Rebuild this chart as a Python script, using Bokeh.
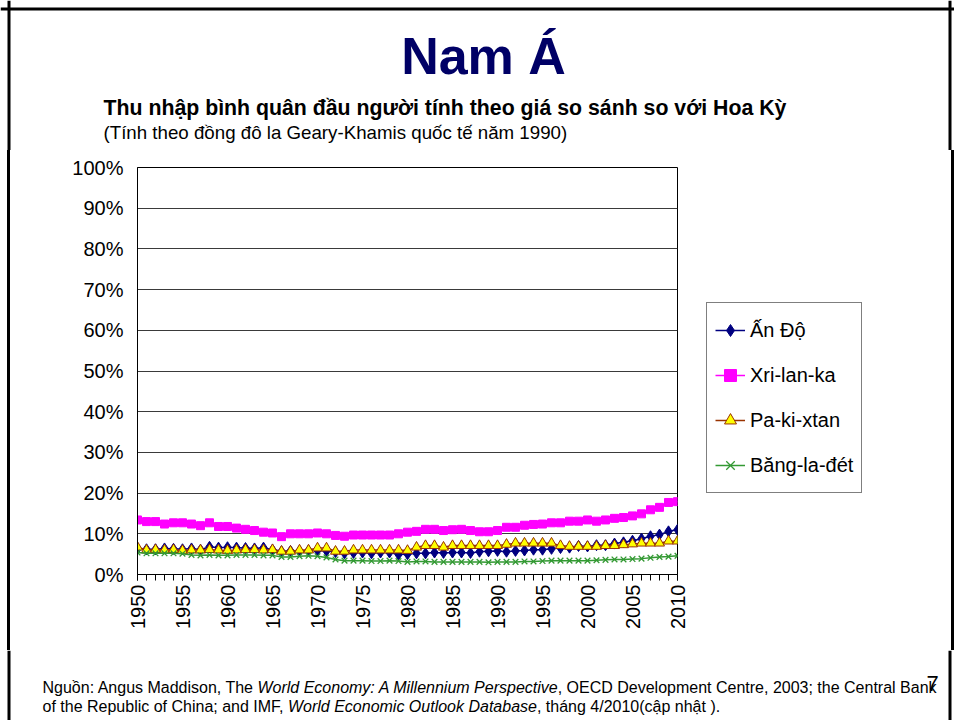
import math
import subprocess
from bokeh.plotting import figure
from bokeh.layouts import column, row
from bokeh.models import (Range1d, FixedTicker, PrintfTickFormatter, Legend, LegendItem,
                          Label, Span, Div)
from bokeh.embed import file_html
from bokeh.resources import INLINE

# ---------------- data ----------------
years = list(range(1950, 2011))
india = [6.3, 6.2, 6.2, 6.4, 6.3, 6.2, 6.4, 6.1, 6.8, 6.6, 6.7, 6.6, 6.5, 6.4, 6.6,
         6.1, 5.7, 5.8, 5.8, 5.9, 5.9, 5.8, 5.5, 5.2, 5.3, 5.4, 5.2, 5.4, 5.4, 4.9,
         5.0, 5.2, 5.2, 5.4, 5.3, 5.4, 5.4, 5.3, 5.6, 5.7, 5.8, 5.6, 5.8, 5.9, 6.1,
         6.1, 6.3, 6.5, 6.6, 7.0, 6.9, 7.2, 7.2, 7.6, 7.9, 8.3, 8.8, 9.4, 9.8, 10.6, 11.0]
sri_lanka = [13.4, 13.0, 13.0, 12.4, 12.7, 12.7, 12.4, 12.0, 12.7, 11.8, 11.8, 11.4, 11.1, 10.8, 10.4,
             10.2, 9.3, 10.0, 10.0, 10.0, 10.2, 10.0, 9.6, 9.4, 9.7, 9.7, 9.7, 9.7, 9.7, 10.0,
             10.4, 10.6, 11.1, 11.1, 10.8, 11.0, 11.1, 10.8, 10.5, 10.5, 10.8, 11.6, 11.6, 12.1, 12.3,
             12.4, 12.7, 12.7, 13.1, 13.1, 13.4, 13.1, 13.4, 13.8, 14.0, 14.4, 14.9, 15.9, 16.5, 17.7, 17.9]
pakistan = [6.7, 6.0, 6.1, 6.0, 6.1, 5.9, 6.0, 6.0, 6.1, 6.0, 5.9, 6.0, 6.1, 6.1, 6.0,
            6.1, 5.7, 5.7, 6.0, 6.0, 6.5, 6.5, 5.7, 5.7, 6.0, 6.0, 6.0, 6.0, 6.0, 6.0,
            5.9, 6.7, 7.1, 7.1, 6.7, 7.1, 7.1, 7.1, 7.1, 7.1, 7.1, 7.4, 7.7, 7.7, 7.7,
            7.7, 7.7, 7.1, 6.9, 6.9, 6.9, 6.9, 7.1, 7.1, 7.3, 7.5, 7.7, 7.7, 7.7, 8.2, 8.2]
bangladesh = [5.4, 5.2, 5.2, 5.2, 5.2, 5.1, 4.8, 4.7, 4.8, 4.7, 4.7, 4.8, 4.8, 4.8, 4.7,
              4.7, 4.3, 4.3, 4.5, 4.6, 4.5, 4.2, 3.7, 3.4, 3.4, 3.4, 3.3, 3.3, 3.4, 3.3,
              3.1, 3.2, 3.2, 3.1, 3.1, 3.1, 3.1, 3.1, 3.1, 3.0, 3.1, 3.1, 3.1, 3.2, 3.2,
              3.3, 3.4, 3.4, 3.4, 3.4, 3.4, 3.5, 3.6, 3.7, 3.7, 3.8, 3.9, 4.1, 4.3, 4.4, 4.6]
series_names = ["Ấn Độ", "Xri-lan-ka", "Pa-ki-xtan", "Băng-la-đét"]
y_ticks = list(range(0, 101, 10))
x_label_years = list(range(1950, 2011, 5))

title_text = "Nam Á"
subtitle1 = "Thu nhập bình quân đầu người tính theo giá so sánh so với Hoa Kỳ"
subtitle2 = "(Tính theo đồng đô la Geary-Khamis quốc tế năm 1990)"
foot1 = [("Nguồn: Angus Maddison, The ", "normal"),
         ("World Economy: A Millennium Perspective", "italic"),
         (", OECD Development Centre, 2003; the Central Bank", "normal")]
foot2 = [("of the Republic of China; and IMF, ", "normal"),
         ("World Economic Outlook Database", "italic"),
         (", tháng 4/2010(cập nhật ).", "normal")]
page_number = "7"

# ---------------- text measuring ----------------
_files = {}
def _font_file(pattern):
    if pattern not in _files:
        try:
            out = subprocess.run(["fc-match", "-f", "%{file}", pattern],
                                 capture_output=True, text=True, timeout=10).stdout.strip()
        except Exception:
            out = ""
        _files[pattern] = out or None
    return _files[pattern]

def text_width(text, size, style="normal"):
    pat = {"normal": "Liberation Sans", "bold": "Liberation Sans:bold",
           "italic": "Liberation Sans:italic"}[style]
    try:
        from PIL import ImageFont
        f = ImageFont.truetype(_font_file(pat), 100)
        return f.getlength(text) * size / 100.0
    except Exception:
        return len(text) * size * 0.52

def fit_size(text, target, style, lo, hi):
    w1 = text_width(text, 1.0, style)
    s = target / w1 if w1 > 0 else hi
    return max(lo, min(hi, s))

# ---------------- page geometry (px from top-left) ----------------
PW = 954
HEAD_H = 150          # header rows 0..150
CHART_B = 650         # chart row 150..650
FOOT_B = 720          # footer rows 650..720
FL, FT, FR, FB = 137, 167, 677, 574   # plot frame
LSTRIP = 10           # left strip (border line at 7..10)
CHART_R = 700         # chart figure right edge; legend figure after it
RSTRIP = 7            # right strip (border line at 948..951)
BX0, BX1, BY0 = 8.5, 949.5, 8.5
FONT = "Liberation Sans"
TXT_SHIFT = 0.25      # compensation of text baseline placement


def blank(w, h, x0, x1, y_top, y_bot):
    f = figure(width=w, height=h, output_backend="svg", toolbar_location=None,
               x_range=Range1d(x0, x1), y_range=Range1d(y_bot, y_top),
               x_axis_location=None, y_axis_location=None, min_border=0)
    f.grid.visible = False
    f.outline_line_color = None
    f.background_fill_color = "white"
    f.border_fill_color = "white"
    return f


def border_v(f, x):
    f.add_layout(Span(location=x, dimension="height", line_color="black", line_width=3))


def add_label(f, text, px, py, size, style="normal", color="black", align="left", shift=None):
    dy = TXT_SHIFT * size if shift is None else shift
    f.add_layout(Label(x=px, y=py - dy, text=text, text_font=FONT, text_font_size=f"{size:.2f}px",
                       text_font_style=style, text_color=color, text_align=align,
                       text_baseline="alphabetic"))


# ---------------- header ----------------
head = blank(PW, HEAD_H, 0, PW, 0, HEAD_H)
head.add_layout(Span(location=BY0, dimension="width", line_color="black", line_width=3))
border_v(head, BX0)
border_v(head, BX1)
add_label(head, title_text, 483, 76, 52, "bold", "#000066", "center", shift=21)
s1 = fit_size(subtitle1, 683, "bold", 15, 22)
add_label(head, subtitle1, 103, 113, s1, "bold")
s2 = fit_size(subtitle2, 464, "normal", 14, 19)
add_label(head, subtitle2, 103, 137, s2, "normal")

# ---------------- chart ----------------
CH = CHART_B - HEAD_H
p = figure(width=CHART_R - LSTRIP, height=CH, output_backend="svg", toolbar_location=None,
           x_range=Range1d(1950, 2010), y_range=Range1d(0, 100),
           min_border_left=FL - LSTRIP, min_border_top=FT - HEAD_H,
           min_border_right=CHART_R - FR, min_border_bottom=CHART_B - FB)
p.background_fill_color = "white"
p.border_fill_color = "white"
p.outline_line_color = "black"
p.outline_line_width = 1

xt = FixedTicker(ticks=x_label_years, minor_ticks=years)
p.xaxis.ticker = xt
p.xaxis.major_label_orientation = math.pi / 2
p.xaxis.major_tick_in = 0
p.xaxis.major_tick_out = 6
p.xaxis.minor_tick_in = 0
p.xaxis.minor_tick_out = 6
p.xaxis.minor_tick_line_color = "black"
p.xaxis.major_tick_line_color = "black"
p.xaxis.axis_line_color = "black"
p.xaxis.major_label_standoff = 4
p.xaxis.major_label_text_font = FONT
p.xaxis.major_label_text_font_size = "20px"
p.xaxis.major_label_text_color = "black"
p.xgrid.visible = False

yt = FixedTicker(ticks=y_ticks, minor_ticks=[])
p.yaxis.ticker = yt
p.yaxis.formatter = PrintfTickFormatter(format="%d%%")
p.yaxis.major_tick_in = 0
p.yaxis.major_tick_out = 0
p.yaxis.minor_tick_line_color = None
p.yaxis.axis_line_color = "black"
p.yaxis.major_label_standoff = 14
p.yaxis.major_label_text_font = FONT
p.yaxis.major_label_text_font_size = "20px"
p.yaxis.major_label_text_color = "black"
p.ygrid.ticker = yt
p.ygrid.grid_line_color = "#3a3a3a"
p.ygrid.grid_line_width = 1

styles = [
    (india, "#000080", dict(marker="diamond", size=11, fill_color="#000080", line_color="#000080")),
    (sri_lanka, "#FF00FF", dict(marker="square", size=8, fill_color="#FF00FF", line_color="#FF00FF")),
    (pakistan, "#993300", dict(marker="triangle", size=10, fill_color="#FFFF00", line_color="#993300", line_width=1)),
    (bangladesh, "#339933", dict(marker="x", size=8, line_color="#339933", line_width=1.3)),
]
for vals, col, mk in styles:
    p.line(years, vals, line_color=col, line_width=1.5)
    p.scatter(years, vals, **mk)

# ---------------- legend panel (own figure, same frame rows as the chart) ----------------
# its ranges lie away from the data, so only the legend samples of these renderers show
LW = PW - RSTRIP - CHART_R
lf = figure(width=LW, height=CH, output_backend="svg", toolbar_location=None,
            x_range=Range1d(0, 1), y_range=Range1d(-2, -1),
            x_axis_location=None, y_axis_location=None,
            min_border_left=0, min_border_right=0,
            min_border_top=FT - HEAD_H, min_border_bottom=CHART_B - FB)
lf.grid.visible = False
lf.outline_line_color = None
lf.background_fill_color = "white"
lf.border_fill_color = "white"
items = []
for name, (vals, col, mk) in zip(series_names, styles):
    lr = lf.line(years, vals, line_color=col, line_width=1.5)
    sr = lf.scatter(years, vals, **mk)
    items.append(LegendItem(label=name, renderers=[lr, sr]))
legend = Legend(items=items, location=(706 - CHART_R, FB - 493),
                label_text_font=FONT, label_text_font_size="20px", label_text_color="black",
                glyph_width=30, glyph_height=38, label_height=38, spacing=7, padding=8,
                margin=0, label_standoff=5,
                border_line_color="black", border_line_width=1,
                background_fill_color="white", background_fill_alpha=1.0)
lf.add_layout(legend, "center")

left_strip = Div(text="", width=LSTRIP, height=CH, margin=0,
                 styles={"box-sizing": "border-box", "border-right": "3px solid black",
                         "background-color": "white"})
right_strip = Div(text="", width=RSTRIP, height=CH, margin=0,
                  styles={"box-sizing": "border-box", "border-right": "3px solid black",
                          "background-color": "white"})

# ---------------- footer ----------------
foot = blank(PW, FOOT_B - CHART_B, 0, PW, CHART_B, FOOT_B)
border_v(foot, BX0)
border_v(foot, BX1)
full1 = "".join(t for t, _ in foot1)
fs = fit_size(full1, 910, "normal", 12, 16)
for line, base in ((foot1, 691), (foot2, 710)):
    x = 42
    for t, st in line:
        add_label(foot, t, x, base, fs, st)
        x += text_width(t, fs, st)
add_label(foot, page_number, 932, 688, 22, "normal", "black", "center")

layout = column(head, row(left_strip, p, lf, right_strip, spacing=0), foot, spacing=0)
open("out.html", "w").write(file_html(layout, INLINE))
